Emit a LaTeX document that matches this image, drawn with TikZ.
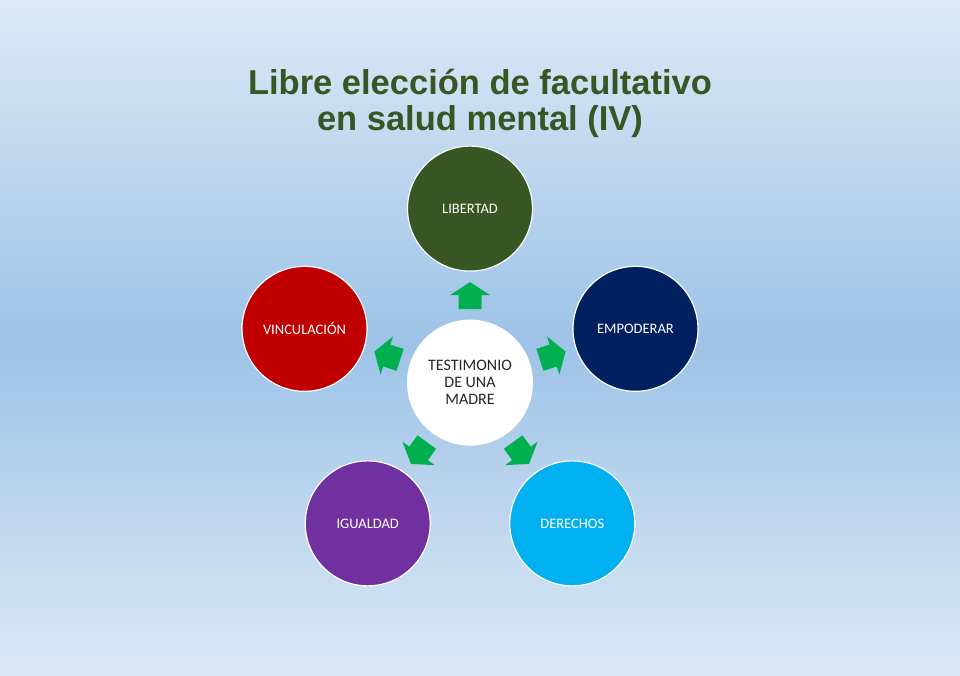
\documentclass[tikz,border=0pt]{standalone}
\usepackage{fontspec}
\setmainfont{Carlito}
\newfontfamily\titlefont{Liberation Sans}
\usetikzlibrary{calc}
\definecolor{bgtop}{HTML}{DCE9F6}
\definecolor{bgmid}{HTML}{9DC3E6}
\definecolor{titlegreen}{HTML}{375623}
\definecolor{clibertad}{HTML}{375623}
\definecolor{cempoderar}{HTML}{002060}
\definecolor{cderechos}{HTML}{00B0F0}
\definecolor{cigualdad}{HTML}{7030A0}
\definecolor{cvinculacion}{HTML}{C00000}
\definecolor{arrowgreen}{HTML}{00B050}
\definecolor{centertext}{HTML}{262626}
\tikzset{
  valuecircle/.style={circle, draw=white, line width=1.2pt, minimum size=125pt, inner sep=0pt,
    text=white, font=\fontsize{14.5}{16}\selectfont},
  centercircle/.style={circle, fill=white, minimum size=126pt, inner sep=0pt, align=center,
    text=centertext, font=\fontsize{16}{17}\selectfont},
  titletext/.style={text=titlegreen, font=\titlefont\bfseries\fontsize{34.5}{36}\selectfont, anchor=base},
  blockarrow/.pic={\fill[arrowgreen] (-13.5,-11.5) -- (0.5,-11.5) -- (0.5,-20) -- (13.5,0) -- (0.5,20) -- (0.5,11.5) -- (-13.5,11.5) -- cycle;}
}
\begin{document}
\begin{tikzpicture}[x=1pt,y=1pt]
\foreach \i in {0,...,134} {
  \pgfmathsetmacro{\yy}{\i*5}
  \pgfmathsetmacro{\tt}{100*(1-abs(\yy+2.5-335)/340)}
  \fill[bgmid!\tt!bgtop] (0,\yy) rectangle (960,\yy+5.6);
}
\useasboundingbox (0,0) rectangle (960,675);
\node[titletext] (title1) at (480,581) {Libre elección de facultativo};
\node[titletext] (title2) at (480,545) {en salud mental (IV)};
\coordinate (c) at (470,293);
\node[centercircle] (centro) at (c) {TESTIMONIO\\DE UNA\\MADRE};
\node[valuecircle, fill=clibertad] (libertad) at ($(c)+(90:174)$) {LIBERTAD};
\node[valuecircle, fill=cempoderar] (empoderar) at ($(c)+(18:174)$) {EMPODERAR};
\node[valuecircle, fill=cderechos] (derechos) at ($(c)+(-54:174)$) {DERECHOS};
\node[valuecircle, fill=cigualdad] (igualdad) at ($(c)+(-126:174)$) {IGUALDAD};
\node[valuecircle, fill=cvinculacion] (vinculacion) at ($(c)+(162:174)$) {VINCULACIÓN};
\foreach \a in {90,18,-54,-126,162} {
  \pic[rotate=\a] at ($(c)+(\a:87)$) {blockarrow};
}
\end{tikzpicture}
\end{document}
